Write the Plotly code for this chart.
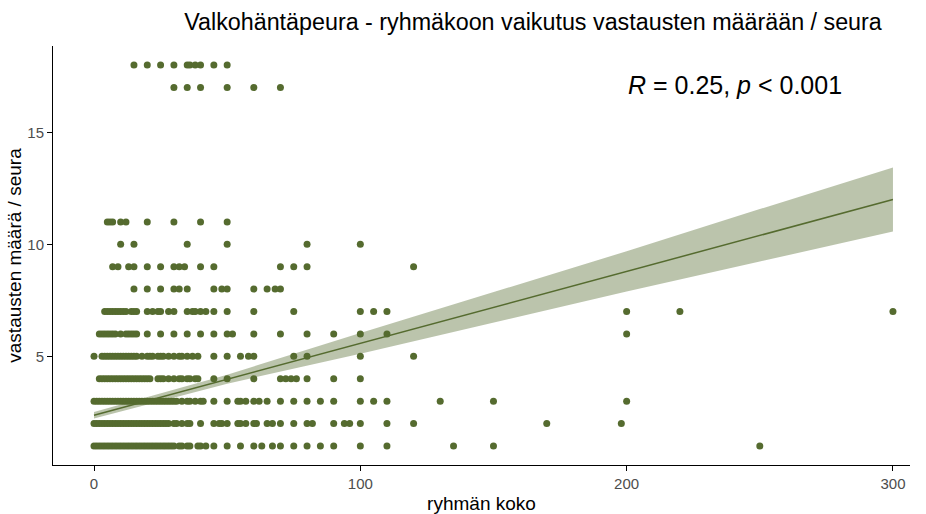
"""
Valkohäntäpeura: ryhmäkoon vaikutus vastausten määrään / seura.
Scatter with a linear fit and its confidence band, ggplot classic look.
"""
import plotly.graph_objects as go

# x values (group size) of the points on each response-count row
x_at_1 = list(range(0, 29)) + [29, 30, 32, 33, 35, 36, 39, 40, 42, 45, 50, 55, 60, 63, 67, 70,
                               75, 80, 85, 90, 100, 110, 135, 150, 250]
x_at_2 = list(range(0, 29)) + [30, 31, 33, 35, 36, 40, 45, 47, 48, 50, 54, 55, 57, 60, 61, 65, 67,
                               70, 75, 80, 82, 90, 94, 96, 100, 110, 120, 170, 198]
x_at_3 = list(range(0, 32)) + [33, 35, 36, 38, 40, 41, 45, 50, 54, 55, 57, 60, 62, 65, 70, 75, 80,
                               85, 90, 100, 105, 110, 130, 150, 200]
x_at_4 = list(range(2, 22)) + [24, 25, 26, 28, 30, 32, 33, 35, 36, 38, 39, 45, 50, 60, 70, 72, 74,
                               76, 80, 90, 100]
x_at_5 = [0, 3, 4, 5, 6, 7, 8, 9, 10, 11, 12, 13, 14, 15, 16, 18, 20, 21, 22, 24, 25, 26, 28, 30,
          32, 33, 35, 37, 39, 45, 50, 55, 58, 60, 75, 80, 100, 120]
x_at_6 = [2, 3, 4, 5, 6, 7, 8, 10, 12, 13, 14, 15, 16, 20, 25, 30, 35, 40, 45, 50, 52, 60, 70, 80,
          90, 100, 110, 200]
x_at_7 = [4, 5, 6, 7, 8, 9, 10, 11, 12, 14, 15, 16, 20, 22, 24, 25, 28, 30, 35, 37, 38, 40, 42,
          45, 50, 60, 75, 100, 105, 110, 200, 220, 300]
x_at_8 = [15, 20, 25, 30, 32, 35, 45, 48, 50, 60, 65, 68, 70]
x_at_9 = [7, 9, 13, 15, 20, 25, 30, 32, 34, 40, 45, 70, 75, 80, 120]
x_at_10 = [10, 15, 35, 50, 80, 100]
x_at_11 = [5, 6, 7, 10, 12, 20, 30, 40, 50]
x_at_17 = [30, 35, 40, 50, 60, 70]
x_at_18 = [15, 20, 25, 30, 35, 36, 38, 40, 45, 50]

rows = {1: x_at_1, 2: x_at_2, 3: x_at_3, 4: x_at_4, 5: x_at_5, 6: x_at_6, 7: x_at_7,
        8: x_at_8, 9: x_at_9, 10: x_at_10, 11: x_at_11, 17: x_at_17, 18: x_at_18}

# fitted line and 95% band
fit_x = [0, 50, 100, 150, 200, 250, 300]
fit_y = [2.37, 3.98, 5.58, 7.19, 8.79, 10.40, 12.00]
fit_low = [2.22, 3.78, 5.12, 6.51, 7.89, 9.23, 10.57]
fit_high = [2.52, 4.18, 6.04, 7.87, 9.69, 11.57, 13.43]

GREEN = '#556B2F'
BAND = 'rgba(85,107,47,0.4)'
FONT = 'Liberation Sans, Arial, sans-serif'

px_x, px_y = [], []
for yv, xs in rows.items():
    px_x += xs
    px_y += [yv] * len(xs)

fig = go.Figure()
fig.add_trace(go.Scatter(x=px_x, y=px_y, mode='markers',
                         marker=dict(color=GREEN, size=7, line=dict(width=0)),
                         hoverinfo='x+y'))
fig.add_trace(go.Scatter(x=fit_x, y=fit_low, mode='lines', line=dict(width=0),
                         hoverinfo='skip'))
fig.add_trace(go.Scatter(x=fit_x, y=fit_high, mode='lines', line=dict(width=0),
                         fill='tonexty', fillcolor=BAND, hoverinfo='skip'))
fig.add_trace(go.Scatter(x=fit_x, y=fit_y, mode='lines', line=dict(color=GREEN, width=1.5),
                         hoverinfo='skip'))

fig.add_annotation(x=240.7, y=17.1, xref='x', yref='y', showarrow=False,
                   text='<i>R</i> = 0.25, <i>p</i> &lt; 0.001',
                   font=dict(family=FONT, size=25, color='black'),
                   xanchor='center', yanchor='middle')

fig.update_layout(
    width=926, height=514, template='plotly_white', showlegend=False,
    paper_bgcolor='white', plot_bgcolor='white',
    margin=dict(l=53, r=16, t=46, b=49, autoexpand=False),
    font=dict(family=FONT, color='black'),
    title=dict(text='Valkohäntäpeura - ryhmäkoon vaikutus vastausten määrään / seura',
               x=533 / 926, xanchor='center', xref='container', y=1 - 22 / 514,
               yref='container', yanchor='middle', automargin=False,
               font=dict(family=FONT, size=23.3, color='black')),
)
fig.update_xaxes(range=[-15.4, 306.4], tickvals=[0, 100, 200, 300], showgrid=False,
                 zeroline=False, showline=True, linecolor='black', linewidth=1,
                 ticks='outside', ticklen=5, tickcolor='black', automargin=False,
                 tickfont=dict(size=15, color='#4d4d4d'),
                 title=dict(text='ryhmän koko', font=dict(size=19, color='black'), standoff=6))
fig.update_yaxes(range=[0.15, 18.85], tickvals=[5, 10, 15], showgrid=False,
                 zeroline=False, showline=True, linecolor='black', linewidth=1,
                 ticks='outside', ticklen=5, tickcolor='black', automargin=False,
                 tickfont=dict(size=15, color='#4d4d4d'),
                 title=dict(text='vastausten määrä / seura', font=dict(size=19, color='black'),
                            standoff=0))

# the page's default body margin would shift the fixed-size figure
fig.write_html("out.html", config={'displayModeBar': False},
               post_script="document.body.style.margin = '0px';")
